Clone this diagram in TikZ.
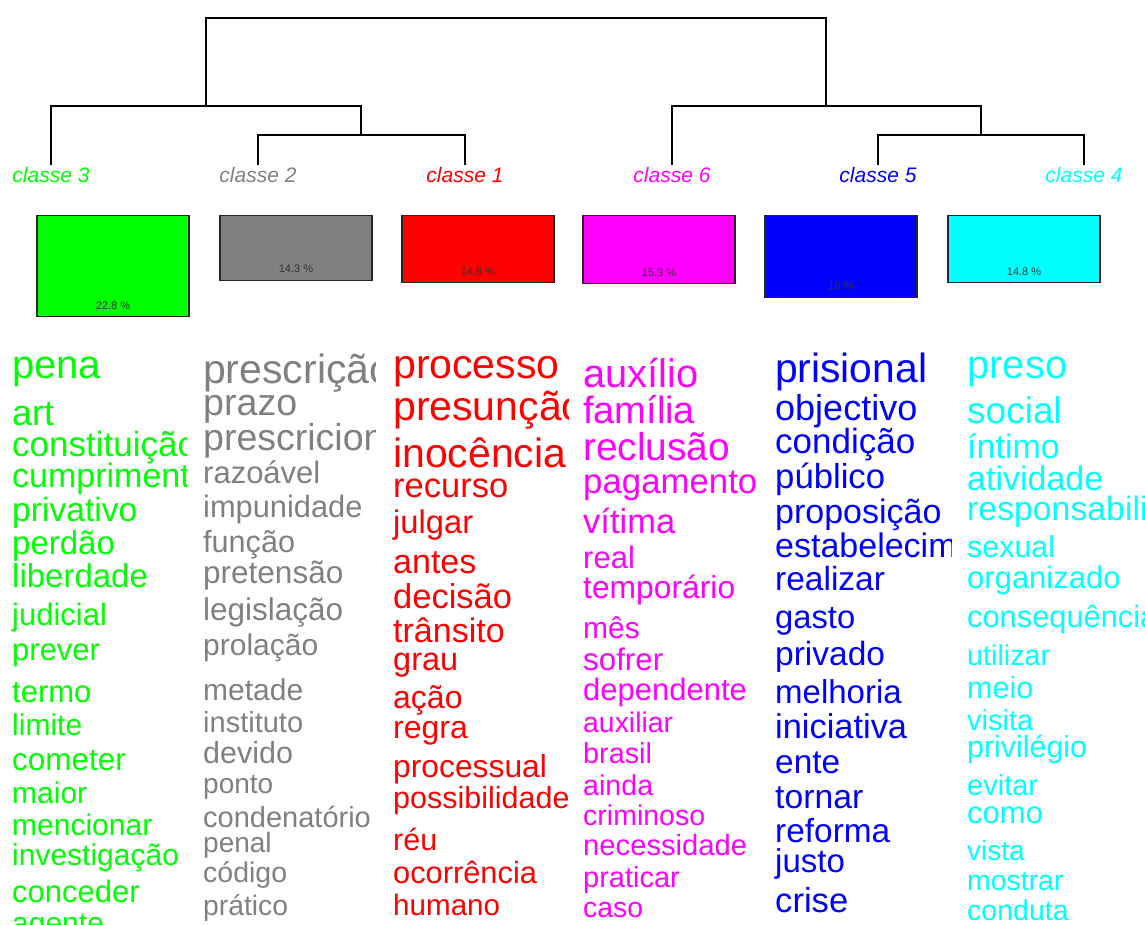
\documentclass[tikz,border=0pt]{standalone}
\usepackage{fontspec}
\setmainfont{Liberation Sans}
\usetikzlibrary{positioning}
\definecolor{cgreen}{RGB}{0,255,0}
\definecolor{cgray}{RGB}{128,128,128}
\definecolor{cred}{RGB}{255,0,0}
\definecolor{cmagenta}{RGB}{255,0,255}
\definecolor{cblue}{RGB}{0,0,255}
\definecolor{ccyan}{RGB}{0,255,255}
\tikzstyle{myline}=[black,line width=1.2pt]
\tikzstyle{mybox}=[draw=black!85,line width=1.3pt,minimum width=152pt,anchor=north,inner sep=0pt]
\tikzstyle{myclass}=[font=\fontsize{21}{24}\selectfont\itshape,anchor=base,inner sep=2pt]
\tikzstyle{mypct}=[font=\fontsize{11}{13}\selectfont,text=black!80,inner sep=0pt]
\tikzstyle{myword}=[anchor=base west,inner sep=0pt]

\begin{document}
\begin{tikzpicture}[x=1pt,y=-1pt]
		\useasboundingbox (0,0) rectangle (1145,924);

		% class labels
		\node[myclass,text=cgreen] (c3) at (51,182) {classe 3};
		\node[myclass,text=cgray] (c2) at (258,182) {classe 2};
		\node[myclass,text=cred] (c1) at (465,182) {classe 1};
		\node[myclass,text=cmagenta] (c6) at (672,182) {classe 6};
		\node[myclass,text=cblue] (c5) at (878,182) {classe 5};
		\node[myclass,text=ccyan] (c4) at (1084,182) {classe 4};

		% dendrogram
		\coordinate (root) at (516,18);
		\coordinate (nL) at (206,106);
		\coordinate (nL2) at (361,135);
		\coordinate (nR) at (826,106);
		\coordinate (nR2) at (981,135);
		\draw[myline] (nL) |- (root) -| (nR);
		\draw[myline] (c3) |- (nL) -| (nL2);
		\draw[myline] (c2) |- (nL2) -| (c1);
		\draw[myline] (c6) |- (nR) -| (nR2);
		\draw[myline] (c5) |- (nR2) -| (c4);

		% boxes
		\node[mybox,fill=cgreen,minimum height=101pt] (b3) at (113,215) {};
		\node[mybox,fill=cgray,minimum height=65pt] (b2) at (296,215) {};
		\node[mybox,fill=cred,minimum height=67pt] (b1) at (478,215) {};
		\node[mybox,fill=cmagenta,minimum height=68pt] (b6) at (659,215) {};
		\node[mybox,fill=cblue,minimum height=82pt] (b5) at (841,215) {};
		\node[mybox,fill=ccyan,minimum height=67pt] (b4) at (1024,215) {};
		\node[mypct] (p3) at ([yshift=12pt]b3.south) {22.8 \%};
		\node[mypct] (p2) at ([yshift=13pt]b2.south) {14.3 \%};
		\node[mypct] (p1) at ([yshift=12pt]b1.south) {14.8 \%};
		\node[mypct] (p6) at ([yshift=12pt]b6.south) {15.3 \%};
		\node[mypct] (p5) at ([yshift=13pt]b5.south) {16 \%};
		\node[mypct] (p4) at ([yshift=12pt]b4.south) {14.8 \%};

		% words
		\begin{scope}
		\clip (0,330) rectangle (186,924);
		\foreach \w / \s / \b [count=\i] in {pena/40/378,art/36/425,constituição/35/456,cumprimento/34/487,privativo/33.6/521,perdão/33/554,liberdade/33/587,judicial/31/625,prever/31/660,termo/31/702,limite/30/735,cometer/31.5/770,maior/30/803,mencionar/30/835,investigação/30/865,conceder/31/902,agente/30/933} {\node[myword,text=cgreen,font=\fontsize{\s}{\s}\selectfont] (w3-\i) at (12,\b) {\w};}
		\end{scope}
		\begin{scope}
		\clip (190,330) rectangle (375,924);
		\foreach \w / \s / \b [count=\i] in {prescrição/41/383,prazo/37.6/415,prescricional/37.5/450,razoável/31/483,impunidade/30.8/517,função/30.6/552,pretensão/31.5/583,legislação/31.5/620,prolação/30/655,metade/30/700,instituto/29/732,devido/30.5/763,ponto/28/793,condenatório/29/827,penal/28/852,código/28.5/882,prático/28.3/915} {\node[myword,text=cgray,font=\fontsize{\s}{\s}\selectfont] (w2-\i) at (203,\b) {\w};}
		\end{scope}
		\begin{scope}
		\clip (380,330) rectangle (568,924);
		\foreach \w / \s / \b [count=\i] in {processo/41/378,presunção/41/420,inocência/41/467,recurso/34.5/497,julgar/32.7/533,antes/34/573,decisão/34.5/608,trânsito/34/642,grau/32.5/670,ação/32/708,regra/32/738,processual/31.8/777,possibilidade/30.5/808,réu/30.5/850,ocorrência/30.8/883,humano/29.6/915} {\node[myword,text=cred,font=\fontsize{\s}{\s}\selectfont] (w1-\i) at (393,\b) {\w};}
		\end{scope}
		\begin{scope}
		\clip (570,330) rectangle (760,924);
		\foreach \w / \s / \b [count=\i] in {auxílio/39.8/387,família/38/423,reclusão/38.9/460,pagamento/34.8/493,vítima/34.5/533,real/31/568,temporário/31.8/598,mês/30/638,sofrer/31.3/670,dependente/31/700,auxiliar/28.4/732,brasil/28.8/763,ainda/28.6/795,criminoso/28.5/825,necessidade/29.2/855,praticar/29/887,caso/28.4/917} {\node[myword,text=cmagenta,font=\fontsize{\s}{\s}\selectfont] (w6-\i) at (583,\b) {\w};}
		\end{scope}
		\begin{scope}
		\clip (762,330) rectangle (951,924);
		\foreach \w / \s / \b [count=\i] in {prisional/40.8/382,objectivo/36/420,condição/35/453,público/34.7/488,proposição/34/523,estabelecimento/34/557,realizar/33.5/590,gasto/32.7/628,privado/33.5/665,melhoria/33/703,iniciativa/34.4/738,ente/33.4/773,tornar/33.7/808,reforma/33.4/842,justo/33/872,crise/34.6/912} {\node[myword,text=cblue,font=\fontsize{\s}{\s}\selectfont] (w5-\i) at (775,\b) {\w};}
		\end{scope}
		\begin{scope}
		\clip (955,330) rectangle (1145,924);
		\foreach \w / \s / \b [count=\i] in {preso/40/378,social/37/423,íntimo/34/458,atividade/34/490,responsabilidade/33.8/520,sexual/30.4/557,organizado/31/588,consequência/30.8/627,utilizar/28.7/665,meio/30.5/698,visita/29/730,privilégio/30.4/757,evitar/29/795,como/31/823,vista/28/860,mostrar/28.4/890,conduta/28.5/920} {\node[myword,text=ccyan,font=\fontsize{\s}{\s}\selectfont] (w4-\i) at (967,\b) {\w};}
		\end{scope}
	\end{tikzpicture}
\end{document}
